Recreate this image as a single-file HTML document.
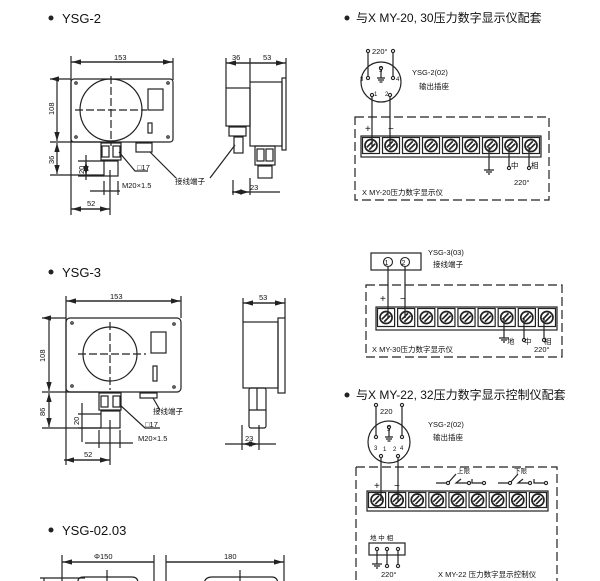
<!DOCTYPE html>
<html><head><meta charset="utf-8"><style>
html,body{margin:0;padding:0;background:#fff;}
svg{display:block;font-family:"Liberation Sans","Noto Sans CJK SC",sans-serif;}
text{fill:#111;}
</style></head><body>
<svg id="s" width="600" height="581" viewBox="0 0 600 581" xmlns="http://www.w3.org/2000/svg">
<defs>
<marker id="a" viewBox="0 0 10 6" refX="10" refY="3" markerWidth="9" markerHeight="4.5" orient="auto-start-reverse"><path d="M0,0L10,3L0,6z" fill="#222"/></marker>
</defs>
<g stroke="#222" stroke-width="1.2" fill="none">
<!-- YSG-2 -->
<rect x="71" y="79" width="102" height="63" rx="3"/>
<circle cx="111" cy="110" r="31"/>
<path d="M111 76V146M75 110H147" stroke-dasharray="8,3"/>
<rect x="148" y="89" width="15" height="21"/>
<rect x="148" y="123" width="4" height="10"/>
<circle cx="76" cy="83" r="1.2"/><circle cx="168" cy="83" r="1.2"/><circle cx="76" cy="137" r="1.2"/><circle cx="168" cy="137" r="1.2"/>
<rect x="101" y="143" width="20" height="17"/><rect x="102" y="146" width="7" height="11"/><rect x="113" y="146" width="7" height="11"/>
<rect x="104" y="161" width="14" height="15"/>
<rect x="136" y="143" width="16" height="9"/>
<path d="M71 56V215M173 58V80M71 62H173" /><path d="M72 62H172" marker-start="url(#a)" marker-end="url(#a)"/>
<path d="M50 79H71M50 142H101M50 175H104M57 80V141" marker-start="url(#a)" marker-end="url(#a)"/>
<path d="M57 143V174" marker-start="url(#a)" marker-end="url(#a)"/>
<path d="M86 155V180M78 161H104M78 176H104"/>
<path d="M86 162V175" marker-start="url(#a)" marker-end="url(#a)"/>
<path d="M110 170V215M71 209H110" /><path d="M72 209H109" marker-start="url(#a)" marker-end="url(#a)"/>
<path d="M90 191H120M104 181V195M118 181V195"/>
<path d="M119 152L135 171H148M150 152L176 178"/>
<!-- side -->
<rect x="226" y="88" width="24" height="38"/>
<rect x="250" y="82" width="32" height="64"/>
<rect x="282" y="78" width="4" height="72"/>
<rect x="229" y="127" width="17" height="9"/><rect x="234" y="137" width="9" height="16"/>
<rect x="255" y="146" width="20" height="19"/><rect x="257" y="149" width="7" height="12"/><rect x="266" y="149" width="7" height="12"/>
<rect x="258" y="166" width="14" height="12"/>
<path d="M226 58V88M250 58V82M286 58V78M226 63H286"/>
<path d="M227 63H249M251 63H285" marker-start="url(#a)" marker-end="url(#a)"/>
<path d="M233 180V195M250 178V195M232 192H280" /><path d="M233 192H249" marker-start="url(#a)" marker-end="url(#a)"/>
<path d="M235 145L210 178"/>
<!-- YSG-3 -->
<rect x="66" y="318" width="115" height="74" rx="4"/>
<circle cx="110" cy="354" r="27"/>
<path d="M110 322V390M78 354H146" stroke-dasharray="8,3"/>
<rect x="151" y="332" width="15" height="21"/>
<rect x="153" y="366" width="4" height="15"/>
<circle cx="72" cy="323" r="1.2"/><circle cx="174" cy="324" r="1.2"/><circle cx="72" cy="386" r="1.2"/><circle cx="174" cy="387" r="1.2"/>
<rect x="99" y="393" width="22" height="17"/><rect x="101" y="396" width="7" height="11"/><rect x="113" y="396" width="7" height="11"/>
<rect x="101" y="411" width="19" height="17"/>
<rect x="140" y="393" width="17" height="5"/>
<path d="M66 296V465M181 296V318M66 301H181"/><path d="M67 301H180" marker-start="url(#a)" marker-end="url(#a)"/>
<path d="M42 318H66M42 392H99M42 428H101M49 319V391" marker-start="url(#a)" marker-end="url(#a)"/>
<path d="M49 393V427" marker-start="url(#a)" marker-end="url(#a)"/>
<path d="M82 403V442M78 414H101M78 428H101"/>
<path d="M110 420V465M64 460H110"/><path d="M65 460H109" marker-start="url(#a)" marker-end="url(#a)"/>
<path d="M85 443H133M99 430V448M120 430V448"/>
<path d="M120 405L145 428H160M153 398L160 410"/>
<rect x="243" y="322" width="35" height="66"/>
<rect x="278" y="318" width="7" height="75"/>
<rect x="249" y="388" width="17" height="40" rx="2"/><path d="M249 410H266M257 388V410"/>
<path d="M243 298V322M285 298V318M243 303H285"/><path d="M244 303H284" marker-start="url(#a)" marker-end="url(#a)"/>
<path d="M242 425V450M259 425V450M225 444H276"/><path d="M243 444H258" marker-start="url(#a)" marker-end="url(#a)"/>
<!-- YSG-02.03 -->
<path d="M62 555V581M154 555V581M166 555V581M284 555V581M62 562H154M166 562H284"/>
<path d="M63 562H153M167 562H283" marker-start="url(#a)" marker-end="url(#a)"/>
<path d="M78 585V581Q78 577 84 577H132Q138 577 138 583M204 585Q204 577 212 577H272Q278 577 278 585M107 570V581M240 570V581M40 578H85M44 578V581"/>
<!-- right 1 -->
<circle cx="381" cy="82" r="20"/>
<path d="M368 78V51M393 78V51M381 68V78M377 78H385M378 80H384M379.5 82H382.5M372 95V147M390 95V147"/>
<path d="M355 117H549V200H355Z" stroke-dasharray="9,4"/>
<path d="M489 147V170M484 170H494M486 172H492M488 174H490M509 147V168M529 147V168"/>
<!-- right 2 -->
<rect x="371" y="253" width="50" height="17"/>
<path d="M388 266V318M405 266V318"/>
<path d="M366 285H562V357H366Z" stroke-dasharray="9,4"/>
<path d="M504 318V338M499 338H509M501 340H507M503 342H505M524 318V340M544 318V340"/>
<!-- right 3 -->
<circle cx="389" cy="442" r="21"/>
<path d="M376 437V405M402 437V405M389 427V437M385 437H393M386 439H392M387.5 441H390.5M381 456V501M398 456V501"/>
<path d="M356 467H557V581M356 467V581" stroke-dasharray="9,4"/>
<path d="M436 483H448L456 474M461 479L456 483H469M472 479V483H484M498 483H510L518 474M523 479L518 483H530M534 479V483H546"/>
<rect x="369" y="543" width="36" height="12"/>
<path d="M377 549V564M372 564H382M374 566H380M376 568H378M387 549V566M398 549V566"/>
</g>
<g id="dots" fill="#fff" stroke="#222" stroke-width="1.1"></g>
<g id="strips" stroke="#222" stroke-width="1.2" fill="none"></g>
<g font-size="13"><circle cx="51" cy="18" r="2.5" fill="#222"/><text x="62" y="23">YSG-2</text>
<circle cx="51" cy="272" r="2.5" fill="#222"/><text x="62" y="277">YSG-3</text>
<circle cx="51" cy="530" r="2.5" fill="#222"/><text x="62" y="535">YSG-02.03</text></g>
<g font-size="12"><circle cx="347" cy="18" r="2.5" fill="#222"/><text x="356" y="22">与X MY-20, 30压力数字显示仪配套</text>
<circle cx="347" cy="395" r="2.5" fill="#222"/><text x="356" y="399">与X MY-22, 32压力数字显示控制仪配套</text></g>
<g font-size="7.5">
<text x="114" y="60">153</text><text x="110" y="299">153</text>
<text x="0" y="0" transform="translate(54,115) rotate(-90)">108</text>
<text x="0" y="0" transform="translate(54,164) rotate(-90)">36</text>
<text x="0" y="0" transform="translate(84,174) rotate(-90)">20</text>
<text x="87" y="206">52</text><text x="122" y="188">M20×1.5</text><text x="137" y="170">□17</text>
<text x="175" y="184">接线端子</text>
<text x="232" y="60">36</text><text x="263" y="60">53</text><text x="250" y="190">23</text>
<text x="0" y="0" transform="translate(45,362) rotate(-90)">108</text>
<text x="0" y="0" transform="translate(45,416) rotate(-90)">86</text>
<text x="0" y="0" transform="translate(79,425) rotate(-90)">20</text>
<text x="84" y="457">52</text><text x="138" y="441">M20×1.5</text><text x="145" y="427">□17</text>
<text x="153" y="414">接线端子</text>
<text x="259" y="300">53</text><text x="245" y="441">23</text>
<text x="94" y="559">Φ150</text><text x="224" y="559">180</text>
<text x="372" y="54">220°</text><text x="412" y="75">YSG-2(02)</text><text x="419" y="89">输出插座</text>
<text x="379" y="72" font-size="6">5</text><text x="360" y="81" font-size="6">3</text><text x="396" y="81" font-size="6">4</text>
<text x="374" y="96" font-size="6">1</text><text x="385" y="96" font-size="6">2</text>
<text x="365" y="132" font-size="10">+</text><text x="388" y="132" font-size="10">−</text>
<text x="511" y="168">中</text><text x="531" y="168">相</text><text x="514" y="185">220°</text>
<text x="362" y="195">X MY-20压力数字显示仪</text>
<text x="428" y="255">YSG-3(03)</text><text x="433" y="267">接线端子</text>
<text x="384.5" y="265" font-size="7">1</text><text x="401.5" y="265" font-size="7">2</text>
<text x="380" y="302" font-size="10">+</text><text x="400" y="302" font-size="10">−</text>
<text x="507" y="344">地</text><text x="524" y="344">中</text><text x="544" y="344">相</text>
<text x="534" y="352">220°</text><text x="372" y="352">X MY-30压力数字显示仪</text>
<text x="380" y="414">220</text><text x="428" y="427" fill="#777">YSG-2(02)</text><text x="433" y="440">输出插座</text>
<text x="387" y="431" font-size="6">5</text><text x="374" y="450" font-size="6">3</text><text x="400" y="450" font-size="6">4</text>
<text x="383" y="451" font-size="6">1</text><text x="393" y="451" font-size="6">2</text>
<text x="374" y="489" font-size="10">+</text><text x="394" y="489" font-size="10">−</text>
<text x="457" y="473" font-size="6.5">上限</text><text x="514" y="473" font-size="6.5">下限</text>
<text x="370" y="540" font-size="6.5">地 中 相</text><text x="381" y="577">220°</text>
<text x="438" y="577">X MY-22 压力数字显示控制仪</text>
</g>
</svg>
<script>
var NS="http://www.w3.org/2000/svg",S=document.getElementById('strips'),D=document.getElementById('dots');
function el(p,t,a){var e=document.createElementNS(NS,t);for(var k in a)e.setAttribute(k,a[k]);p.appendChild(e);return e;}
function strip(x,y,w,h,n){el(S,'rect',{x:x,y:y,width:w,height:h});var cw=w/n;
for(var i=0;i<n;i++){var x0=x+i*cw;el(S,'rect',{x:x0+1.5,y:y+1.5,width:cw-3,height:h-5});
var cx=x0+cw/2,cy=y+h/2-1,r=Math.min(cw,h)*0.3;el(S,'circle',{cx:cx,cy:cy,r:r,'stroke-width':1.7});
el(S,'path',{d:'M'+(cx-r*0.7)+' '+(cy+r*0.3)+'L'+(cx+r*0.3)+' '+(cy-r*0.7)+'M'+(cx-r*0.3)+' '+(cy+r*0.7)+'L'+(cx+r*0.7)+' '+(cy-r*0.3),'stroke-width':1.7});}}
strip(361,136,180,21,9);strip(376,307,181,23,9);strip(367,491,181,20,9);
[[368,51],[393,51],[368,78],[393,78],[381,68],[372,95],[390,95],[509,168],[529,168],
[524,340],[544,340],[376,405],[402,405],[376,437],[402,437],[389,427],[381,456],[398,456],
[448,483],[469,483],[484,483],[510,483],[530,483],[546,483],[377,549],[387,549],[398,549],[387,566],[398,566]].forEach(function(p){el(D,'circle',{cx:p[0],cy:p[1],r:1.6});});
[[388,262],[405,262]].forEach(function(p){var c=el(D,'circle',{cx:p[0],cy:p[1],r:4.5});c.setAttribute('fill','none');});
</script>
</body></html>
